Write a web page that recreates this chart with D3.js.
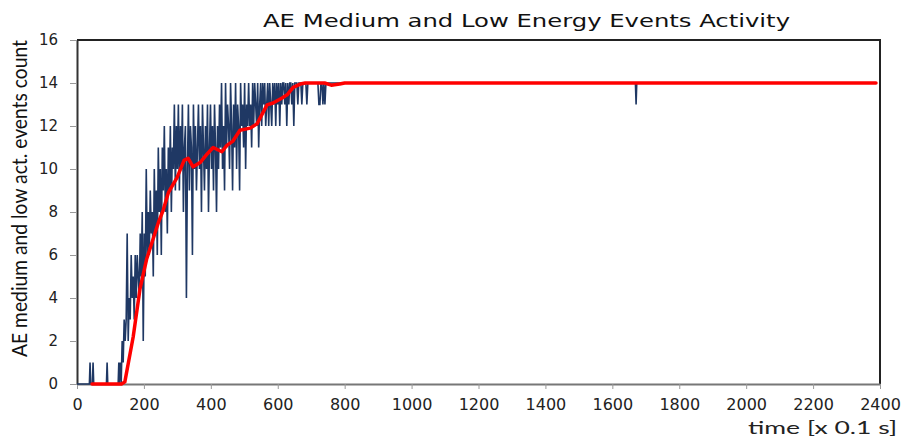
<!DOCTYPE html>
<html lang="en">
<head>
  <meta charset="UTF-8">
  <title>AE Medium and Low Energy Events Activity</title>
  <style>
    body {
      margin: 0;
      padding: 0;
      background-color: #ffffff;
    }
    svg {
      display: block;
    }
    .tick text {
      font-family: "DejaVu Sans", Verdana, sans-serif;
      fill: #222;
    }
  </style>
</head>
<body>
<div id="chart"></div>
<script src="https://d3js.org/d3.v7.min.js"></script>
<script>
  // values
  const xTicks = [0, 200, 400, 600, 800, 1000, 1200, 1400, 1600, 1800, 2000, 2200, 2400];
  const yTicks = [0, 2, 4, 6, 8, 10, 12, 14, 16];

  // raw event count: quiet start with a few single events
  const rawStartPoints = [
    [0, 0], [37, 0], [39, 1], [41, 0], [46, 0], [48, 1], [50, 0],
    [88, 0], [90, 1], [92, 0], [123, 0], [125, 1]
  ];
  // noisy part, one sample every 3 time units starting at 126
  const rawNoisyStart = 126;
  const rawNoisyStep = 3;
  const rawNoisy = [
    0, 1, 0, 2, 1, 3, 2, 3, 7, 2,
    4, 3, 6, 4, 5, 3, 6, 4, 6, 5,
    4, 7, 5, 8, 2, 7, 5, 10, 6, 8,
    6, 9, 7, 8, 5, 10, 7, 9, 6, 11,
    8, 10, 6, 11, 9, 12, 8, 10, 7, 11,
    9, 12, 8, 11, 10, 13, 9, 12, 10, 13,
    9, 12, 10, 13, 8, 11, 12, 4, 10, 13,
    9, 12, 11, 6, 13, 10, 12, 9, 11, 13,
    10, 12, 8, 13, 11, 9, 12, 10, 13, 8,
    11, 13, 10, 12, 9, 13, 11, 8, 12, 10,
    13, 11, 14, 10, 12, 9, 14, 11, 13, 12,
    10, 14, 12, 9, 13, 11, 14, 10, 13, 12,
    9, 14, 12, 13, 11, 14, 10, 13, 12, 14,
    12, 13, 11, 14, 12, 14, 13, 12, 14, 11,
    13, 14, 12, 14, 13, 14, 12, 13, 14, 12,
    14, 13, 12, 14, 13, 14, 12, 14, 13, 14,
    12, 14, 13, 14, 14, 13, 14, 12, 14, 13,
    14, 14, 13, 14, 12, 14, 14, 14, 13, 14,
    14, 14, 13, 14, 14, 14, 14, 13, 14, 14,
    14, 14, 14, 14, 14, 14, 14, 14, 14, 13,
    13, 14, 14, 13, 14, 13, 14, 14, 14, 14
  ];
  // saturated tail with one drop
  const rawEndPoints = [[756, 14], [1669, 14], [1671, 13], [1673, 14], [2388, 14]];

  // moving average (red)
  const avgTime = [45, 133, 143, 168, 188, 208, 243, 258, 273, 299, 320, 332, 347, 368, 389, 407, 433, 448, 466, 487, 517, 538, 568, 586, 613, 628, 646, 667, 682, 740, 760, 785, 800, 2388];
  const avgValue = [0, 0, 0.1, 2.2, 4.4, 5.8, 7.5, 8.1, 8.9, 9.6, 10.4, 10.5, 10.1, 10.3, 10.7, 11.0, 10.8, 11.1, 11.3, 11.8, 11.9, 12.1, 12.98, 13.07, 13.3, 13.45, 13.8, 13.95, 14, 14, 13.9, 13.95, 14, 14];

  const width = 908;
  const height = 441;
  const margin = { top: 40, right: 28, bottom: 57, left: 77 };
  const plotW = width - margin.left - margin.right;
  const plotH = height - margin.top - margin.bottom;

  const rawData = rawStartPoints
    .concat(rawNoisy.map((v, i) => [rawNoisyStart + i * rawNoisyStep, v]))
    .concat(rawEndPoints);
  const avgData = avgTime.map((t, i) => [t, avgValue[i]]);

  const svg = d3.select("#chart").append("svg")
    .attr("width", width)
    .attr("height", height);

  svg.append("rect").attr("width", width).attr("height", height).attr("fill", "#fff");

  const g = svg.append("g")
    .attr("transform", `translate(${margin.left},${margin.top})`);

  const xScale = d3.scaleLinear().domain([0, 2400]).range([0, plotW]);
  const yScale = d3.scaleLinear().domain([0, 16]).range([plotH, 0]);

  // frame top + right
  g.append("path")
    .attr("d", `M0,0H${plotW}V${plotH}`)
    .attr("fill", "none")
    .attr("stroke", "#222")
    .attr("stroke-width", 2);

  const xAxis = g.append("g")
    .attr("transform", `translate(0,${plotH})`)
    .call(d3.axisBottom(xScale).tickValues(xTicks).tickFormat(d3.format("d"))
      .tickSize(5).tickPadding(10).tickSizeOuter(0));
  xAxis.select(".domain").attr("stroke", "#777").attr("stroke-width", 2);
  xAxis.selectAll(".tick line").attr("stroke", "#999");
  xAxis.selectAll(".tick text").attr("font-size", 16);

  const yAxis = g.append("g")
    .call(d3.axisLeft(yScale).tickValues(yTicks).tickFormat(d3.format("d"))
      .tickSize(7).tickPadding(12).tickSizeOuter(0));
  yAxis.select(".domain").attr("stroke", "#333").attr("stroke-width", 2);
  yAxis.selectAll(".tick line").attr("stroke", "#999");
  yAxis.selectAll(".tick text").attr("font-size", 15);

  const line = d3.line()
    .x(d => xScale(d[0]))
    .y(d => yScale(d[1]));

  g.append("path")
    .datum(rawData)
    .attr("d", line)
    .attr("fill", "none")
    .attr("stroke", "#1f3864")
    .attr("stroke-width", 1.6);

  g.append("path")
    .datum(avgData)
    .attr("d", line)
    .attr("fill", "none")
    .attr("stroke", "#ff0000")
    .attr("stroke-width", 3.5)
    .attr("stroke-linejoin", "round")
    .attr("stroke-linecap", "round");

  // title
  svg.append("text")
    .attr("x", 263)
    .attr("y", 27)
    .attr("textLength", 527)
    .attr("lengthAdjust", "spacingAndGlyphs")
    .attr("font-family", "DejaVu Sans, Verdana, sans-serif")
    .attr("font-size", 18)
    .attr("fill", "#111")
    .text("AE Medium and Low Energy Events Activity");

  // axis titles
  svg.append("text")
    .attr("transform", "translate(27,357) rotate(-90)")
    .attr("textLength", 317)
    .attr("lengthAdjust", "spacingAndGlyphs")
    .attr("font-family", "Lato, sans-serif")
    .attr("font-size", 21)
    .attr("fill", "#111")
    .text("AE medium and low act. events count");

  svg.append("text")
    .attr("x", 748)
    .attr("y", 434)
    .attr("textLength", 149)
    .attr("lengthAdjust", "spacingAndGlyphs")
    .attr("font-family", "Lato, sans-serif")
    .attr("font-size", 18)
    .attr("fill", "#222")
    .text("time [x 0.1 s]");
</script>
</body>
</html>
